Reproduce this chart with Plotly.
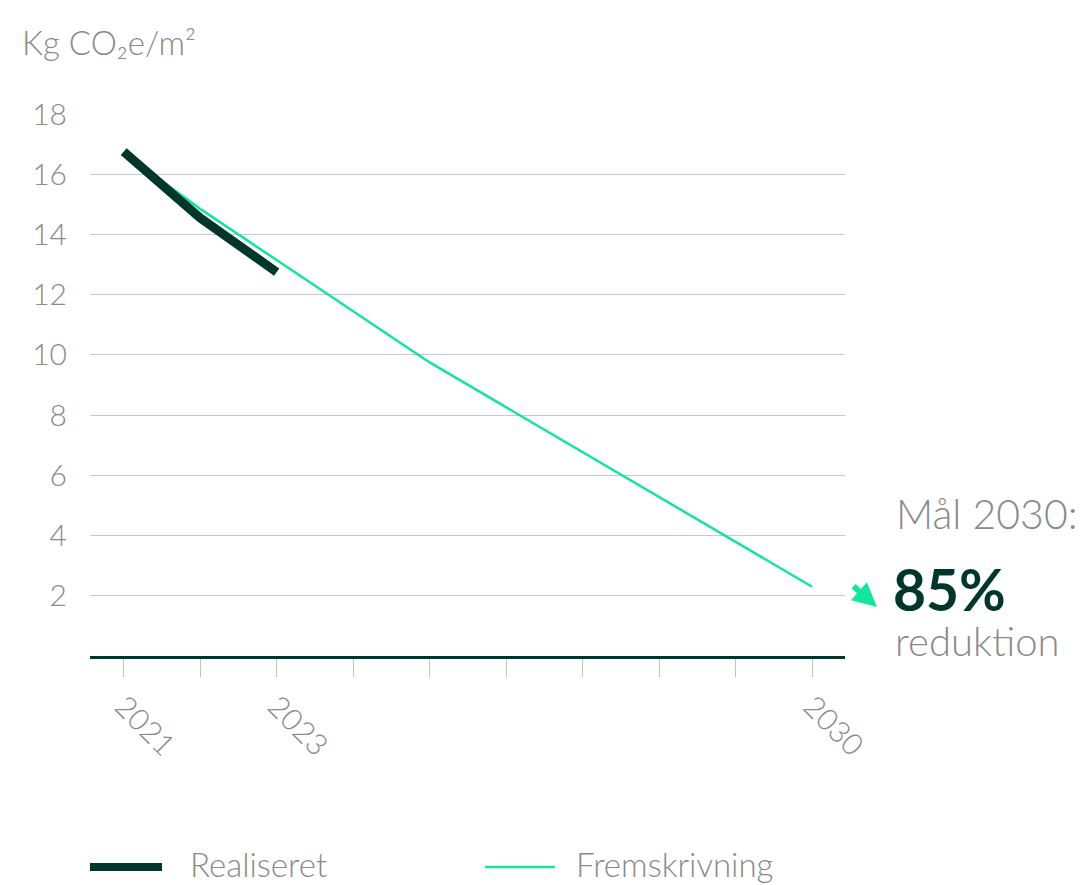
import plotly.graph_objects as go

years = [2021, 2022, 2023, 2024, 2025, 2026, 2027, 2028, 2029, 2030]
realiseret_years = [2021, 2022, 2023]
realiseret = [16.75, 14.55, 12.75]
fremskrivning_years = [2021, 2022, 2023, 2025, 2030]
fremskrivning = [16.7, 14.85, 13.15, 9.75, 2.3]
tick_labels = ["2021", "", "2023", "", "", "", "", "", "", "2030"]
y_ticks = [2, 4, 6, 8, 10, 12, 14, 16, 18]

DARK = "#00362B"
MINT = "#14E59B"
GRAY = "#8A8A8A"
FONT = "Lato"

OFF = 8  # page body margin
W, H = 1085 - OFF, 885 - OFF
L, T = 90 - OFF, 114 - OFF
R = W - (845 - OFF)
B = H - (656 - OFF)
pw = W - L - R
ph = H - T - B

def px(x):
    return (x - OFF - L) / pw

def py(y):
    return (H - B - (y - OFF)) / ph

fig = go.Figure()
fig.add_trace(go.Scatter(x=fremskrivning_years, y=fremskrivning, mode="lines",
                         line=dict(color=MINT, width=2.5), name="Fremskrivning",
                         showlegend=False, hoverinfo="skip"))
fig.add_trace(go.Scatter(x=realiseret_years, y=realiseret, mode="lines",
                         line=dict(color=DARK, width=9), name="Realiseret",
                         showlegend=False, hoverinfo="skip"))

fig.update_layout(
    width=W, height=H,
    margin=dict(l=L, r=R, t=T, b=B),
    paper_bgcolor="white", plot_bgcolor="white",
    font=dict(family=FONT, color=GRAY, size=28, weight=300),
    xaxis=dict(range=[2020.56, 2030.43], tickvals=years, ticktext=tick_labels,
               tickangle=45, ticks="outside", ticklen=18, tickcolor="#C4C4C4",
               tickwidth=1, showgrid=False, zeroline=False, showline=True,
               linecolor=DARK, linewidth=3,
               tickfont=dict(size=30, color=GRAY, weight=300)),
    yaxis=dict(range=[0, 18], tickvals=y_ticks, showgrid=True, gridcolor="#C8C8C8",
               gridwidth=1, zeroline=False, showline=False, ticks="",
               ticklabelstandoff=22, tickfont=dict(size=30, color=GRAY, weight=300)),
    showlegend=False,
)

ann = []
ann.append(dict(x=px(20), y=py(42), xref="paper", yref="paper", xanchor="left",
                yanchor="middle", text="Kg CO₂e/m²", showarrow=False,
                font=dict(size=33, color=GRAY, family=FONT, weight=300)))
ann.append(dict(x=px(894), y=py(513), xref="paper", yref="paper", xanchor="left",
                yanchor="middle", text="Mål 2030:", showarrow=False,
                font=dict(size=41, color=GRAY, family=FONT, weight=300)))
ann.append(dict(x=px(892), y=py(589), xref="paper", yref="paper", xanchor="left",
                yanchor="middle", text="<b>85%</b>", showarrow=False, borderpad=0,
                font=dict(size=57, color=DARK, family=FONT, weight=900)))
ann.append(dict(x=px(894), y=py(641), xref="paper", yref="paper", xanchor="left",
                yanchor="middle", text="reduktion", showarrow=False, borderpad=0,
                font=dict(size=40, color=GRAY, family=FONT, weight=300)))
# arrow
ann.append(dict(x=px(877), y=py(607), xref="paper", yref="paper",
                ax=-25, ay=-22, axref="pixel", ayref="pixel",
                text="", showarrow=True, arrowhead=2, arrowsize=0.8,
                arrowwidth=6, arrowcolor=MINT))
# legend texts
ann.append(dict(x=px(189), y=py(864), xref="paper", yref="paper", xanchor="left",
                yanchor="middle", text="Realiseret", showarrow=False, borderpad=0,
                font=dict(size=33, color=GRAY, family=FONT, weight=300)))
ann.append(dict(x=px(575), y=py(864), xref="paper", yref="paper", xanchor="left",
                yanchor="middle", text="Fremskrivning", showarrow=False, borderpad=0,
                font=dict(size=33, color=GRAY, family=FONT, weight=300)))
fig.update_layout(annotations=ann)

fig.add_shape(type="line", xref="paper", yref="paper", x0=px(90), x1=px(162),
              y0=py(867), y1=py(867), line=dict(color=DARK, width=8))
fig.add_shape(type="line", xref="paper", yref="paper", x0=px(485), x1=px(555),
              y0=py(867), y1=py(867), line=dict(color=MINT, width=2.5))

fig.write_html("out.html")
